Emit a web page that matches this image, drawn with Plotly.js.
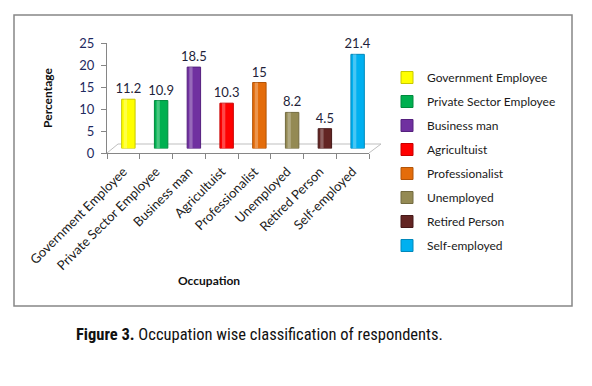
<!DOCTYPE html>
<html>
<head>
<meta charset="utf-8">
<script src="https://cdn.plot.ly/plotly-3.0.1.min.js"></script>
<style>
  html, body { margin: 0; padding: 0; background: #ffffff; }
  #chart { width: 592px; height: 386px; }
</style>
</head>
<body>
<div id="chart"></div>
<script>
// ---- data ----
const categories = ["Government Employee", "Private Sector Employee", "Business man", "Agricultuist",
                    "Professionalist", "Unemployed", "Retired Person", "Self-employed"];
const percentages = [11.2, 10.9, 18.5, 10.3, 15, 8.2, 4.5, 21.4];
const barColors = ["#FFFF00", "#00B050", "#7030A0", "#FF0000", "#E46C0A", "#948A54", "#632523", "#00B0F0"];
const edgeColors = ["#C8C800", "#008A3E", "#55207E", "#C80000", "#B25408", "#736B40", "#451818", "#0088BB"];
const yTicks = [0, 5, 10, 15, 20, 25];
const captionBold = "Figure 3.";
const captionText = "Occupation wise classification of respondents.";
const xTitle = "Occupation";
const yTitle = "Percentage";

// ---- geometry (pixels) ----
const W = 592, H = 386;
const L = 107, R = 381, T = 38, B = 153;
const pw = R - L, ph = B - T;
const frontRight = 369;          // end of the front x axis line
const depthX = 5, depthY = 4.5;  // 3D shift of the bars
const px = v => (v - L) / pw;
const py = v => (B - v) / ph;
const FONT = "Lato, 'Open Sans', sans-serif";

const traces = categories.map((c, i) => ({
  type: "bar",
  name: c,
  legendgroup: "g" + i,
  x: [c],
  y: [percentages[i]],
  xaxis: "x2",
  yaxis: "y2",
  width: 0.41,
  marker: { color: barColors[i], line: { color: edgeColors[i], width: 1 } },
  text: [String(percentages[i])],
  textposition: "outside",
  constraintext: "none",
  textfont: { family: FONT, size: 13, color: "#1f1f3a" },
  cliponaxis: false,
  hoverinfo: "x+y"
}));
// cylinder highlight (same values, decorative sheen)
traces.push({
  type: "bar", x: categories, y: percentages, xaxis: "x2", yaxis: "y2",
  width: 0.1, offset: -0.14, showlegend: false, hoverinfo: "skip",
  marker: { color: "rgba(255,255,255,0.28)", line: { width: 0 } }
});
// carrier trace so the visible front axes are drawn
traces.push({
  type: "scatter", mode: "markers", x: categories, y: categories.map(() => null),
  xaxis: "x", yaxis: "y", showlegend: false, hoverinfo: "skip"
});

const floorLine = { color: "#bfbfbf", width: 1 };
const shapes = [
  { type: "rect", xref: "paper", yref: "paper", layer: "below",
    x0: px(14), x1: px(572), y0: py(306), y1: py(15),
    line: { color: "#878787", width: 1.5 }, fillcolor: "rgba(0,0,0,0)" },
  { type: "line", xref: "paper", yref: "paper", layer: "below",
    x0: px(L), y0: py(B), x1: px(L + 11), y1: py(B - 9), line: floorLine },
  { type: "line", xref: "paper", yref: "paper", layer: "below",
    x0: px(L + 11), y0: py(B - 9), x1: px(R), y1: py(B - 9), line: floorLine },
  { type: "line", xref: "paper", yref: "paper", layer: "below",
    x0: px(frontRight), y0: py(B), x1: px(R), y1: py(B - 9), line: floorLine }
];

const layout = {
  width: W, height: H,
  margin: { l: L, r: W - R, t: T, b: H - B, pad: 0 },
  paper_bgcolor: "#ffffff",
  plot_bgcolor: "rgba(0,0,0,0)",
  showlegend: true,
  barmode: "overlay",
  font: { family: FONT, color: "#1a1a1a" },
  xaxis: {
    domain: [0, px(frontRight)],
    type: "category",
    categoryarray: categories,
    range: [-0.5, categories.length - 0.5],
    tickson: "boundaries",
    ticks: "outside", ticklen: 5, tickcolor: "#868686",
    showline: true, linecolor: "#868686", linewidth: 1,
    showgrid: false, zeroline: false,
    tickangle: -45,
    ticklabelstandoff: 5,
    tickfont: { family: FONT, size: 13, color: "#1a1a1a" },
    automargin: false, fixedrange: true
  },
  yaxis: {
    domain: [0, py(43)],
    range: [0, 25],
    tickvals: yTicks,
    ticks: "outside", ticklen: 5, tickcolor: "#868686",
    ticklabelstandoff: 4,
    showline: true, linecolor: "#868686", linewidth: 1,
    showgrid: false, zeroline: false,
    tickfont: { family: FONT, size: 13, color: "#1f2a5f" },
    title: { text: "<b>" + yTitle + "</b>", standoff: 24,
             font: { family: FONT, size: 12, color: "#111111" } },
    automargin: false, fixedrange: true
  },
  xaxis2: {
    domain: [px(L + depthX), px(frontRight + depthX)],
    type: "category",
    categoryarray: categories,
    range: [-0.5, categories.length - 0.5],
    visible: false, anchor: "y2", fixedrange: true
  },
  yaxis2: {
    domain: [py(B - depthY), py(43 - depthY)],
    range: [0, 25],
    visible: false, anchor: "x2", fixedrange: true
  },
  legend: {
    x: px(387), y: py(63), xanchor: "left", yanchor: "top",
    font: { family: FONT, size: 12, color: "#1a1a1a" },
    tracegroupgap: 5,
    itemwidth: 30,
    maxheight: 300,
    bgcolor: "rgba(0,0,0,0)"
  },
  shapes: shapes,
  annotations: [
    { xref: "paper", yref: "paper", x: px(209), y: py(280), xanchor: "center", yanchor: "middle",
      showarrow: false, text: "<b>" + xTitle + "</b>",
      font: { family: FONT, size: 12, color: "#111111" } },
    { xref: "paper", yref: "paper", x: px(259), y: py(334), xanchor: "center", yanchor: "middle",
      showarrow: false, text: "<b>" + captionBold + "</b> " + captionText,
      font: { family: "'Liberation Sans Narrow', 'Roboto Condensed', 'DejaVu Sans Condensed', sans-serif", size: 16.5, color: "#111111" } }
  ]
};

Plotly.newPlot("chart", traces, layout, { displayModeBar: false, staticPlot: true });
</script>
</body>
</html>
